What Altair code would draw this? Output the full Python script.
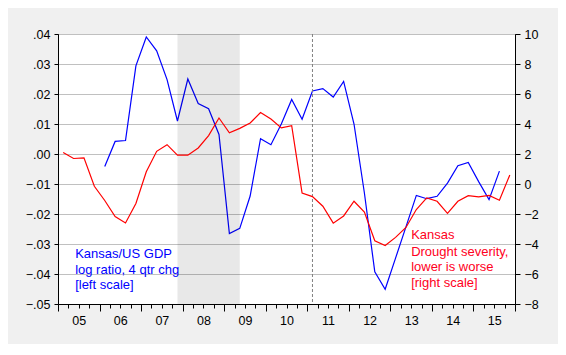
import altair as alt
import pandas as pd

# quarter slots 2005Q1 .. 2015Q4 (index 0..43)
years = list(range(2005, 2016))
quarters = [f"{y}Q{q}" for y in years for q in (1, 2, 3, 4)]

# Kansas/US GDP log ratio, 4 qtr change (left scale)
gdp = [None, None, None, None,
       -0.0042, 0.0042, 0.0045, 0.0294,
       0.0390, 0.0344, 0.0248, 0.0110,
       0.0250, 0.0168, 0.0151, 0.0065,
       -0.0265, -0.0248, -0.0140, 0.0051,
       0.0031, 0.0100, 0.0182, 0.0116,
       0.0210, 0.0218, 0.0190, 0.0242,
       0.0100, -0.0130, -0.0393, -0.0451,
       -0.0347, -0.0243, -0.0138, -0.0149,
       -0.0141, -0.0097, -0.0039, -0.0028,
       -0.0092, -0.0152, -0.0057, None]

# Kansas drought severity (right scale)
drought = [2.10, 1.70, 1.74, -0.15,
           -1.10, -2.17, -2.60, -1.30,
           0.82, 2.18, 2.62, 1.92,
           1.92, 2.40, 3.23, 4.40,
           3.41, 3.71, 4.07, 4.76,
           4.33, 3.74, 3.89, -0.60,
           -0.84, -1.48, -2.61, -2.13,
           -1.15, -1.87, -3.78, -4.10,
           -3.56, -2.90, -1.70, -0.93,
           -1.15, -1.96, -1.15, -0.78,
           -0.86, -0.76, -1.08, 0.60]

left_ticks = [-0.05, -0.04, -0.03, -0.02, -0.01, 0.00, 0.01, 0.02, 0.03, 0.04]
right_ticks = [-8, -6, -4, -2, 0, 2, 4, 6, 8, 10]

recession = ("2007Q4", "2009Q2")
marker_q = "2011Q1"

blue_text = ["Kansas/US GDP", "log ratio, 4 qtr chg", "[left scale]"]
blue_text_y = [-0.0332, -0.0387, -0.0438]
red_text = ["Kansas", "Drought severity,", "lower is worse", "[right scale]"]
red_text_y = [-3.40, -4.50, -5.53, -6.58]

FONT = "Liberation Sans"
W, H = 457, 270

pos = {q: i + 0.5 for i, q in enumerate(quarters)}
df = pd.DataFrame({"q": quarters, "t": [pos[q] for q in quarters],
                   "gdp": gdp, "drought": drought})

xscale = alt.Scale(domain=[0, len(quarters)], nice=False, zero=False)
lscale = alt.Scale(domain=[-0.05, 0.04], nice=False, zero=False)
rscale = alt.Scale(domain=[-8, 10], nice=False, zero=False)

label_expr = ("datum.value % 4 == 2 ? ((floor(datum.value/4)+5) < 10 ? '0' : '') + "
              "(floor(datum.value/4)+5) : ''")

xaxis = alt.Axis(values=list(range(len(quarters) + 1)), labelExpr=label_expr,
                 title=None, grid=False, labelOverlap=False, labelFlush=False,
                 tickSize={"condition": {"test": "datum.value % 4 == 0", "value": 7}, "value": 4},
                 labelPadding=6, labelFontSize=12.5)

laxis = alt.Axis(values=left_ticks, title=None, grid=True, gridColor="#C0C0C0",
                 gridWidth=1, gridOpacity=1,
                 labelOverlap=False, labelFlush=False,
                 labelExpr="replace(format(datum.value, '.2f'), '0.', '.')",
                 tickSize=4, labelPadding=4, labelFontSize=12.5)
raxis = alt.Axis(values=right_ticks, orient="right", title=None, grid=False,
                 labelOverlap=False, labelFlush=False,
                 tickSize=5, labelPadding=4, labelFontSize=12.5)

X = lambda f: alt.X(f, scale=xscale, axis=xaxis)
YL = lambda f: alt.Y(f, scale=lscale, axis=laxis)
YR = lambda f: alt.Y(f, scale=rscale, axis=raxis)

shade_df = pd.DataFrame({"a": [pos[recession[0]]], "b": [pos[recession[1]]]})
shade = alt.Chart(shade_df).mark_rect(color="#000000", opacity=0.09).encode(
    x=X("a:Q"), x2="b:Q")

blue = alt.Chart(df).mark_line(color="#0000FF", strokeWidth=1.2).encode(
    x=X("t:Q"), y=YL("gdp:Q"))

vline = alt.Chart(pd.DataFrame({"v": [pos[marker_q]]})).mark_rule(
    color="#808080", strokeDash=[3, 2], strokeWidth=1).encode(x=X("v:Q"))

btxt = alt.Chart(pd.DataFrame({"s": blue_text, "y": blue_text_y, "x": [1.65] * 3})).mark_text(
    align="left", baseline="middle", color="#0000FF", font=FONT, fontSize=13).encode(
    x=X("x:Q"), y=YL("y:Q"), text="s:N")

left = alt.layer(blue, shade, vline, btxt)

red = alt.Chart(df).mark_line(color="#FF0000", strokeWidth=1.2).encode(
    x=X("t:Q"), y=YR("drought:Q"))

rtxt = alt.Chart(pd.DataFrame({"s": red_text, "y": red_text_y, "x": [34.0] * 4})).mark_text(
    align="left", baseline="middle", color="#FF0022", font=FONT, fontSize=13).encode(
    x=X("x:Q"), y=YR("y:Q"), text="s:N")

right = alt.layer(red, rtxt)

chart = alt.layer(left, right).resolve_scale(y="independent").properties(
    width=W, height=H, background="#F0F0F0",
    padding={"left": 50, "top": 26, "right": 43, "bottom": 40},
    autosize=alt.AutoSizeParams(type="none"),
).configure_view(stroke="black", strokeWidth=1, fill="white").configure_axis(
    domainColor="black", tickColor="black", labelColor="black", labelFont=FONT,
    labelOverlap=False,
)

chart.save("out.html", embed_options={"renderer": "svg", "actions": False})
